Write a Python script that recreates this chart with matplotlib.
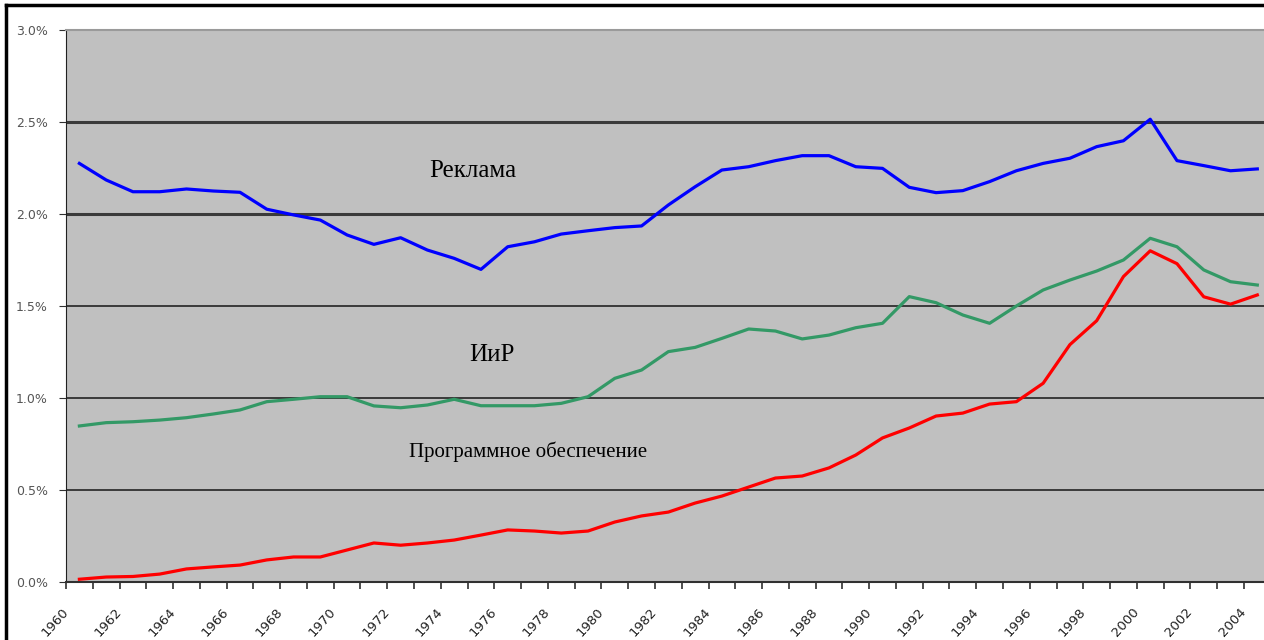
import matplotlib.pyplot as plt
from matplotlib.lines import Line2D
from matplotlib.ticker import FuncFormatter

# values (percent)
years = list(range(1960, 2005))
reklama = [2.275, 2.185, 2.121, 2.121, 2.136, 2.125, 2.118, 2.026, 1.995, 1.967,
           1.886, 1.835, 1.871, 1.804, 1.759, 1.699, 1.822, 1.849, 1.891, 1.909,
           1.926, 1.935, 2.049, 2.148, 2.239, 2.257, 2.290, 2.317, 2.317, 2.257,
           2.248, 2.145, 2.116, 2.127, 2.176, 2.235, 2.275, 2.303, 2.366, 2.398,
           2.515, 2.290, 2.263, 2.235, 2.245]
iir = [0.848, 0.866, 0.871, 0.880, 0.893, 0.913, 0.935, 0.980, 0.993, 1.007,
       1.007, 0.957, 0.947, 0.962, 0.993, 0.958, 0.958, 0.958, 0.971, 1.007,
       1.107, 1.152, 1.252, 1.275, 1.324, 1.375, 1.364, 1.321, 1.342, 1.382,
       1.406, 1.551, 1.518, 1.451, 1.406, 1.500, 1.587, 1.641, 1.690, 1.750,
       1.868, 1.822, 1.696, 1.632, 1.614]
software = [0.015, 0.027, 0.030, 0.043, 0.071, 0.082, 0.092, 0.120, 0.136, 0.136,
            0.174, 0.212, 0.200, 0.212, 0.228, 0.255, 0.283, 0.277, 0.266, 0.277,
            0.326, 0.359, 0.380, 0.429, 0.467, 0.516, 0.565, 0.576, 0.620, 0.690,
            0.783, 0.837, 0.902, 0.918, 0.967, 0.980, 1.080, 1.290, 1.420, 1.660,
            1.800, 1.730, 1.550, 1.510, 1.560]
series_names = ["Реклама", "ИиР", "Программное обеспечение"]
series_colors = ["#0000FF", "#339966", "#FF0000"]
y_ticks = [0.0, 0.5, 1.0, 1.5, 2.0, 2.5, 3.0]
label_years = list(range(1960, 2005, 2))

fig = plt.figure(figsize=(12.64, 6.4), dpi=100)
ax = fig.add_axes([66 / 1264, 58 / 640, 1 - 66 / 1264, 552 / 640])
ax.set_facecolor("#C0C0C0")

# points sit in the middle of each year category
xs = [y + 0.5 for y in years]
for vals, col in zip([reklama, iir, software], series_colors):
    ax.plot(xs, vals, color=col, lw=2.3, solid_joinstyle="round", zorder=3)

ax.set_xlim(1960, 2004.75)
ax.set_ylim(0, 3.0)
ax.set_yticks(y_ticks)
ax.yaxis.set_major_formatter(FuncFormatter(lambda v, p: f"{v:.1f}%"))
ax.set_xticks(years)
ax.set_xticklabels([str(y) if y in label_years else "" for y in years])

ax.grid(axis="y", color="#3a3a3a", lw=1.4, zorder=1)
for i, gl in enumerate(ax.get_ygridlines()):
    if y_ticks[i] in (2.0, 2.5):
        gl.set_linewidth(2.2)
    if y_ticks[i] in (0.0, 3.0):
        gl.set_visible(False)

ax.spines["right"].set_visible(False)
ax.spines["top"].set_color("#9a9a9a")
ax.spines["top"].set_linewidth(1.5)
ax.spines["left"].set_color("#202020")
ax.spines["bottom"].set_color("#303030")
ax.spines["bottom"].set_linewidth(1.5)

ax.tick_params(axis="y", length=5, color="#303030", labelsize=9, labelcolor="#555555", pad=8)
ax.tick_params(axis="x", length=5, width=1.2, color="#303030", labelsize=9.5,
               labelcolor="#222222", pad=15)
for lbl in ax.get_xticklabels():
    lbl.set_rotation(48)
    lbl.set_ha("right")
    lbl.set_va("center")
    lbl.set_rotation_mode("anchor")

serif = ["Liberation Serif", "DejaVu Serif"]
ax.text(1975.2, 2.235, series_names[0], family=serif, fontsize=18, ha="center", va="center")
ax.text(1975.9, 1.234, series_names[1], family=serif, fontsize=18, ha="center", va="center")
ax.text(1977.25, 0.708, series_names[2], family=serif, fontsize=15, ha="center", va="center")

# black frame at top and left of the cropped image
fig.add_artist(Line2D([6 / 1264, 1], [1 - 5 / 640, 1 - 5 / 640], color="black", lw=2.5,
                      transform=fig.transFigure))
fig.add_artist(Line2D([6 / 1264, 6 / 1264], [0, 1 - 5 / 640], color="black", lw=2.5,
                      transform=fig.transFigure))

fig.savefig("out.png", dpi=100)
